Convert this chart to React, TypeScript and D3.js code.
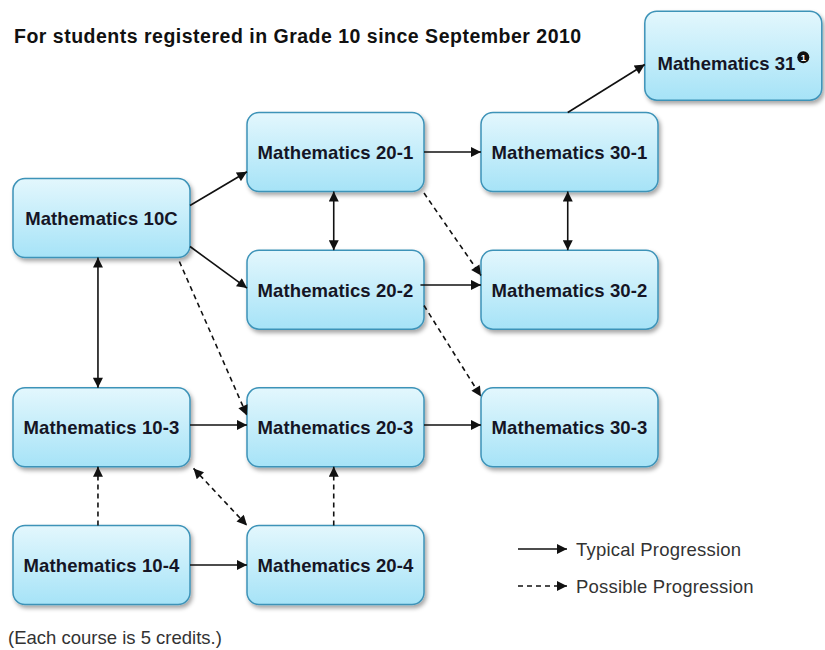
import * as d3 from "d3";

// courses: name, column (grade level), row
const courses = [
  "Mathematics 10C",
  "Mathematics 10-3",
  "Mathematics 10-4",
  "Mathematics 20-1",
  "Mathematics 20-2",
  "Mathematics 20-3",
  "Mathematics 20-4",
  "Mathematics 30-1",
  "Mathematics 30-2",
  "Mathematics 30-3",
  "Mathematics 31",
];
const courseCol = [0, 0, 0, 1, 1, 1, 1, 2, 2, 2, 2.7];
const courseRow = [0.48, 2, 3, 0, 1, 2, 3, 0, 1, 2, -0.7];

// edges: [from, to, kind, twoWay, sourceAnchor, targetAnchor]
// anchors are fractions of the box (fx, fy)
const edges: [string, string, string, boolean, number[], number[]][] = [
  ["Mathematics 10C", "Mathematics 20-1", "typical", false, [1, 0.34], [0, 0.75]],
  ["Mathematics 10C", "Mathematics 20-2", "typical", false, [1, 0.86], [0, 0.48]],
  ["Mathematics 10C", "Mathematics 20-3", "possible", false, [0.94, 1.05], [0, 0.35]],
  ["Mathematics 10C", "Mathematics 10-3", "typical", true, [0.48, 1], [0.48, 0]],
  ["Mathematics 20-1", "Mathematics 30-1", "typical", false, [1, 0.5], [0, 0.5]],
  ["Mathematics 20-1", "Mathematics 20-2", "typical", true, [0.49, 1], [0.49, 0]],
  ["Mathematics 20-1", "Mathematics 30-2", "possible", false, [1, 1.02], [0, 0.32]],
  ["Mathematics 20-2", "Mathematics 30-2", "typical", false, [0.98, 0.44], [0, 0.44]],
  ["Mathematics 20-2", "Mathematics 30-3", "possible", false, [1, 0.7], [0, 0.11]],
  ["Mathematics 30-1", "Mathematics 30-2", "typical", true, [0.49, 1], [0.49, 0]],
  ["Mathematics 30-1", "Mathematics 31", "typical", false, [0.49, 0], [0, 0.6]],
  ["Mathematics 10-3", "Mathematics 20-3", "typical", false, [1, 0.47], [0, 0.47]],
  ["Mathematics 20-3", "Mathematics 30-3", "typical", false, [1, 0.47], [0, 0.47]],
  ["Mathematics 10-3", "Mathematics 20-4", "possible", true, [1.02, 1.02], [0, 0]],
  ["Mathematics 10-4", "Mathematics 10-3", "possible", false, [0.48, 0], [0.48, 1]],
  ["Mathematics 10-4", "Mathematics 20-4", "typical", false, [1, 0.5], [0, 0.5]],
  ["Mathematics 20-4", "Mathematics 20-3", "possible", false, [0.49, 0], [0.49, 1]],
];

const legendKinds = ["typical", "possible"];
const legendLabels = ["Typical Progression", "Possible Progression"];

const title = "For students registered in Grade 10 since September 2010";
const footnote = "(Each course is 5 credits.)";

const W = 825;
const H = 650;
const boxW = 177;
const boxH = 79;
const tallBoxH = 89; // the Mathematics 31 box is a bit taller

const x = d3.scaleLinear().domain([0, 2]).range([13, 481]);
const y = d3.scaleLinear().domain([0, 3]).range([152, 565]);

const dash: Record<string, string> = { typical: "none", possible: "5 4" };

function boxOf(name: string) {
  const i = courses.indexOf(name);
  const h = name === "Mathematics 31" ? tallBoxH : boxH;
  const left = x(courseCol[i]);
  const cy = y(courseRow[i]);
  return { left, top: cy - h / 2, h, cx: left + boxW / 2, cy };
}

function anchor(name: string, a: number[]) {
  const b = boxOf(name);
  return [b.left + a[0] * boxW, b.top + a[1] * b.h];
}

export default function App() {
  const font = "'Liberation Sans', Arial, Helvetica, sans-serif";
  const line = d3.line();
  return (
    <svg
      width={W}
      height={H}
      style={{ position: "absolute", left: 0, top: 0, background: "#fff" }}
      fontFamily={font}
    >
      <defs>
        <linearGradient id="boxFill" x1="0" y1="0" x2="0" y2="1">
          <stop offset="0" stopColor="#e3f7fd" />
          <stop offset="1" stopColor="#a6e3f7" />
        </linearGradient>
        <filter id="shadow" x="-10%" y="-10%" width="130%" height="140%">
          <feDropShadow dx="2" dy="3" stdDeviation="2" floodColor="#000" floodOpacity="0.35" />
        </filter>
        <marker
          id="head"
          viewBox="0 0 10 10"
          refX="10"
          refY="5"
          markerWidth="12"
          markerHeight="10"
          markerUnits="userSpaceOnUse"
          orient="auto-start-reverse"
        >
          <path d="M0,0 L10,5 L0,10 Z" fill="#111" />
        </marker>
      </defs>

      <text x={14} y={43} fontSize={19.5} fontWeight="bold" fill="#111" letterSpacing={0.5}>
        {title}
      </text>

      {courses.map((c) => {
        const b = boxOf(c);
        return (
          <g key={c}>
            <rect
              x={b.left}
              y={b.top}
              width={boxW}
              height={b.h}
              rx={12}
              fill="url(#boxFill)"
              stroke="#3d93b8"
              strokeWidth={1.5}
              filter="url(#shadow)"
            />
            {c === "Mathematics 31" ? (
              <g>
                <text x={b.cx + 62} y={b.cy + 14} textAnchor="end" fontSize={18.5} fontWeight="bold" fill="#151525">
                  {c}
                </text>
                <circle cx={b.cx + 70} cy={b.cy + 1.5} r={6} fill="#111" />
                <text x={b.cx + 70} y={b.cy + 5} textAnchor="middle" fontSize={9.5} fontWeight="bold" fill="#fff">
                  1
                </text>
              </g>
            ) : (
              <text x={b.cx} y={b.cy + 7} textAnchor="middle" fontSize={18.5} fontWeight="bold" fill="#151525" letterSpacing={0.1}>
                {c}
              </text>
            )}
          </g>
        );
      })}

      {edges.map(([from, to, kind, both, sa, ta], i) => {
        const p0 = anchor(from, sa) as [number, number];
        const p1 = anchor(to, ta) as [number, number];
        return (
          <path
            key={i}
            d={line([p0, p1]) ?? ""}
            fill="none"
            stroke="#111"
            strokeWidth={1.6}
            strokeDasharray={dash[kind]}
            markerEnd="url(#head)"
            markerStart={both ? "url(#head)" : undefined}
          />
        );
      })}

      {legendKinds.map((k, i) => {
        const ly = 549 + i * 37;
        return (
          <g key={k}>
            <path
              d={line([[518, ly], [567, ly]]) ?? ""}
              stroke="#111"
              strokeWidth={1.6}
              strokeDasharray={dash[k]}
              markerEnd="url(#head)"
            />
            <text x={576} y={ly + 7} fontSize={18.5} fill="#333" letterSpacing={0.2}>
              {legendLabels[i]}
            </text>
          </g>
        );
      })}

      <text x={8} y={644} fontSize={18.5} fill="#333">
        {footnote}
      </text>
    </svg>
  );
}
